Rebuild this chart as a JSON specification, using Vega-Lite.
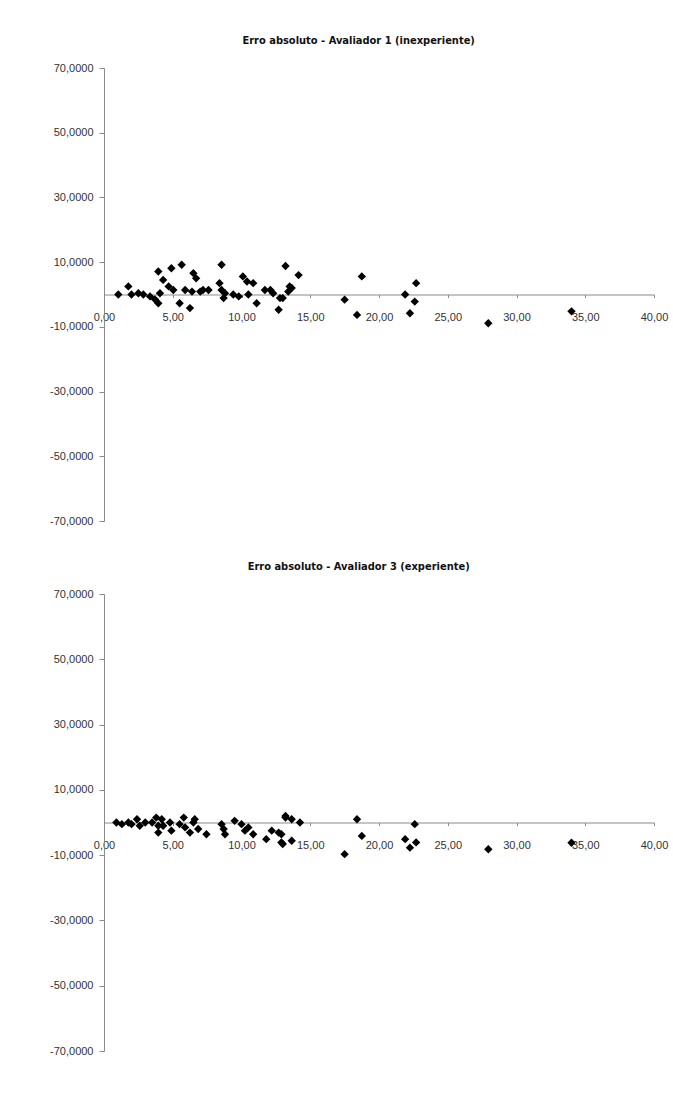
{
  "$schema": "https://vega.github.io/schema/vega-lite/v6.json",
  "background": "white",
  "padding": {"left": 49, "top": 35, "right": 10, "bottom": 5},
  "spacing": 35,
  "config": {
    "view": {"stroke": null},
    "font": "Liberation Sans",
    "axis": {"grid": false, "domainColor": "#8a8a8a", "tickColor": "#8a8a8a", "labelColor": "#333333", "labelFont": "Liberation Sans", "labelFontSize": 11, "title": null},
    "title": {"font": "DejaVu Sans Condensed, Liberation Sans", "fontSize": 11, "fontWeight": "bold", "color": "#111111", "frame": "bounds", "anchor": "middle", "offset": 16}
  },
  "datasets": {
    "a1": [
      {"x": 1.04, "y": 0}, {"x": 1.77, "y": 2.5}, {"x": 2.0, "y": 0}, {"x": 2.5, "y": 0.4}, {"x": 2.86, "y": 0},
      {"x": 3.35, "y": -0.6}, {"x": 3.7, "y": -1.5}, {"x": 3.95, "y": -2.7}, {"x": 4.07, "y": 0.4}, {"x": 3.95, "y": 7.1},
      {"x": 4.3, "y": 4.5}, {"x": 4.9, "y": 8.1}, {"x": 4.7, "y": 2.5}, {"x": 5.04, "y": 1.4}, {"x": 5.65, "y": 9.2},
      {"x": 5.5, "y": -2.7}, {"x": 5.9, "y": 1.4}, {"x": 6.25, "y": -4.2}, {"x": 6.5, "y": 6.6}, {"x": 6.7, "y": 5.0},
      {"x": 6.4, "y": 0.9}, {"x": 7.0, "y": 0.9}, {"x": 7.2, "y": 1.4}, {"x": 7.6, "y": 1.4}, {"x": 8.55, "y": 9.2},
      {"x": 8.4, "y": 3.5}, {"x": 8.55, "y": 1.4}, {"x": 8.7, "y": -1.1}, {"x": 8.8, "y": 0.4}, {"x": 9.4, "y": 0},
      {"x": 9.8, "y": -0.6}, {"x": 10.1, "y": 5.6}, {"x": 10.4, "y": 4.0}, {"x": 10.85, "y": 3.5}, {"x": 10.5, "y": 0},
      {"x": 11.1, "y": -2.7}, {"x": 11.7, "y": 1.4}, {"x": 12.1, "y": 1.4}, {"x": 12.3, "y": 0.4}, {"x": 12.7, "y": -4.7},
      {"x": 12.8, "y": -1.1}, {"x": 13.2, "y": 8.8}, {"x": 13.5, "y": 2.5}, {"x": 13.4, "y": 0.9}, {"x": 14.15, "y": 6.0},
      {"x": 13.65, "y": 2.0}, {"x": 13.0, "y": -1.1}, {"x": 17.5, "y": -1.6}, {"x": 18.4, "y": -6.3}, {"x": 18.75, "y": 5.6},
      {"x": 21.9, "y": 0}, {"x": 22.7, "y": 3.5}, {"x": 22.6, "y": -2.2}, {"x": 22.25, "y": -5.8}, {"x": 27.95, "y": -8.9},
      {"x": 34.0, "y": -5.2}
    ],
    "a3": [
      {"x": 0.9, "y": 0}, {"x": 1.3, "y": -0.5}, {"x": 1.77, "y": 0}, {"x": 2.0, "y": -0.5}, {"x": 2.4, "y": 1.0},
      {"x": 2.6, "y": -1.0}, {"x": 3.0, "y": 0}, {"x": 3.5, "y": 0}, {"x": 3.8, "y": 1.5}, {"x": 3.95, "y": -1.0},
      {"x": 3.95, "y": -3.1}, {"x": 4.2, "y": 1.0}, {"x": 4.3, "y": -1.0}, {"x": 4.8, "y": 0}, {"x": 4.9, "y": -2.5},
      {"x": 5.5, "y": -0.5}, {"x": 5.8, "y": 1.5}, {"x": 5.9, "y": -1.5}, {"x": 6.25, "y": -3.1}, {"x": 6.5, "y": 0},
      {"x": 6.6, "y": 1.0}, {"x": 6.85, "y": -2.0}, {"x": 7.45, "y": -3.6}, {"x": 8.55, "y": -0.5}, {"x": 8.7, "y": -2.0},
      {"x": 8.8, "y": -3.6}, {"x": 9.5, "y": 0.5}, {"x": 10.0, "y": -0.5}, {"x": 10.25, "y": -2.5}, {"x": 10.5, "y": -1.5},
      {"x": 10.85, "y": -3.6}, {"x": 11.8, "y": -5.1}, {"x": 12.2, "y": -2.5}, {"x": 12.7, "y": -3.1}, {"x": 12.9, "y": -6.1},
      {"x": 13.2, "y": 2.0}, {"x": 13.2, "y": 1.5}, {"x": 13.65, "y": 1.0}, {"x": 14.25, "y": 0}, {"x": 12.9, "y": -3.6},
      {"x": 13.0, "y": -6.6}, {"x": 13.65, "y": -5.6}, {"x": 17.5, "y": -9.7}, {"x": 18.4, "y": 1.0}, {"x": 18.75, "y": -4.1},
      {"x": 21.9, "y": -5.1}, {"x": 22.25, "y": -7.7}, {"x": 22.7, "y": -6.1}, {"x": 22.6, "y": -0.5}, {"x": 27.95, "y": -8.2},
      {"x": 34.0, "y": -6.2}
    ]
  },
  "vconcat": [
    {
      "title": "Erro absoluto - Avaliador 1 (inexperiente)",
      "width": 550,
      "height": 453,
      "data": {"name": "a1"},
      "mark": {"type": "point", "shape": "diamond", "filled": true, "color": "#000000", "size": 70, "opacity": 1},
      "encoding": {
        "x": {"field": "x", "type": "quantitative", "scale": {"domain": [0, 40], "nice": false, "zero": false},
          "axis": {"values": [0, 5, 10, 15, 20, 25, 30, 35, 40], "offset": -226.5, "tickSize": 3, "labelPadding": 14, "labelFlush": false,
            "labelExpr": "replace(replace(format(datum.value, '.2f'), '.', ','), '\u2212', '-')"}},
        "y": {"field": "y", "type": "quantitative", "scale": {"domain": [-70, 70], "nice": false},
          "axis": {"values": [70, 50, 30, 10, -10, -30, -50, -70], "tickSize": 5, "labelPadding": 6,
            "labelExpr": "replace(replace(format(datum.value, '.4f'), '.', ','), '\u2212', '-')"}}
      }
    },
    {
      "title": "Erro absoluto - Avaliador 3 (experiente)",
      "width": 550,
      "height": 457,
      "data": {"name": "a3"},
      "mark": {"type": "point", "shape": "diamond", "filled": true, "color": "#000000", "size": 70, "opacity": 1},
      "encoding": {
        "x": {"field": "x", "type": "quantitative", "scale": {"domain": [0, 40], "nice": false, "zero": false},
          "axis": {"values": [0, 5, 10, 15, 20, 25, 30, 35, 40], "offset": -228.5, "tickSize": 3, "labelPadding": 14, "labelFlush": false,
            "labelExpr": "replace(replace(format(datum.value, '.2f'), '.', ','), '\u2212', '-')"}},
        "y": {"field": "y", "type": "quantitative", "scale": {"domain": [-70, 70], "nice": false},
          "axis": {"values": [70, 50, 30, 10, -10, -30, -50, -70], "tickSize": 5, "labelPadding": 6,
            "labelExpr": "replace(replace(format(datum.value, '.4f'), '.', ','), '\u2212', '-')"}}
      }
    }
  ]
}
